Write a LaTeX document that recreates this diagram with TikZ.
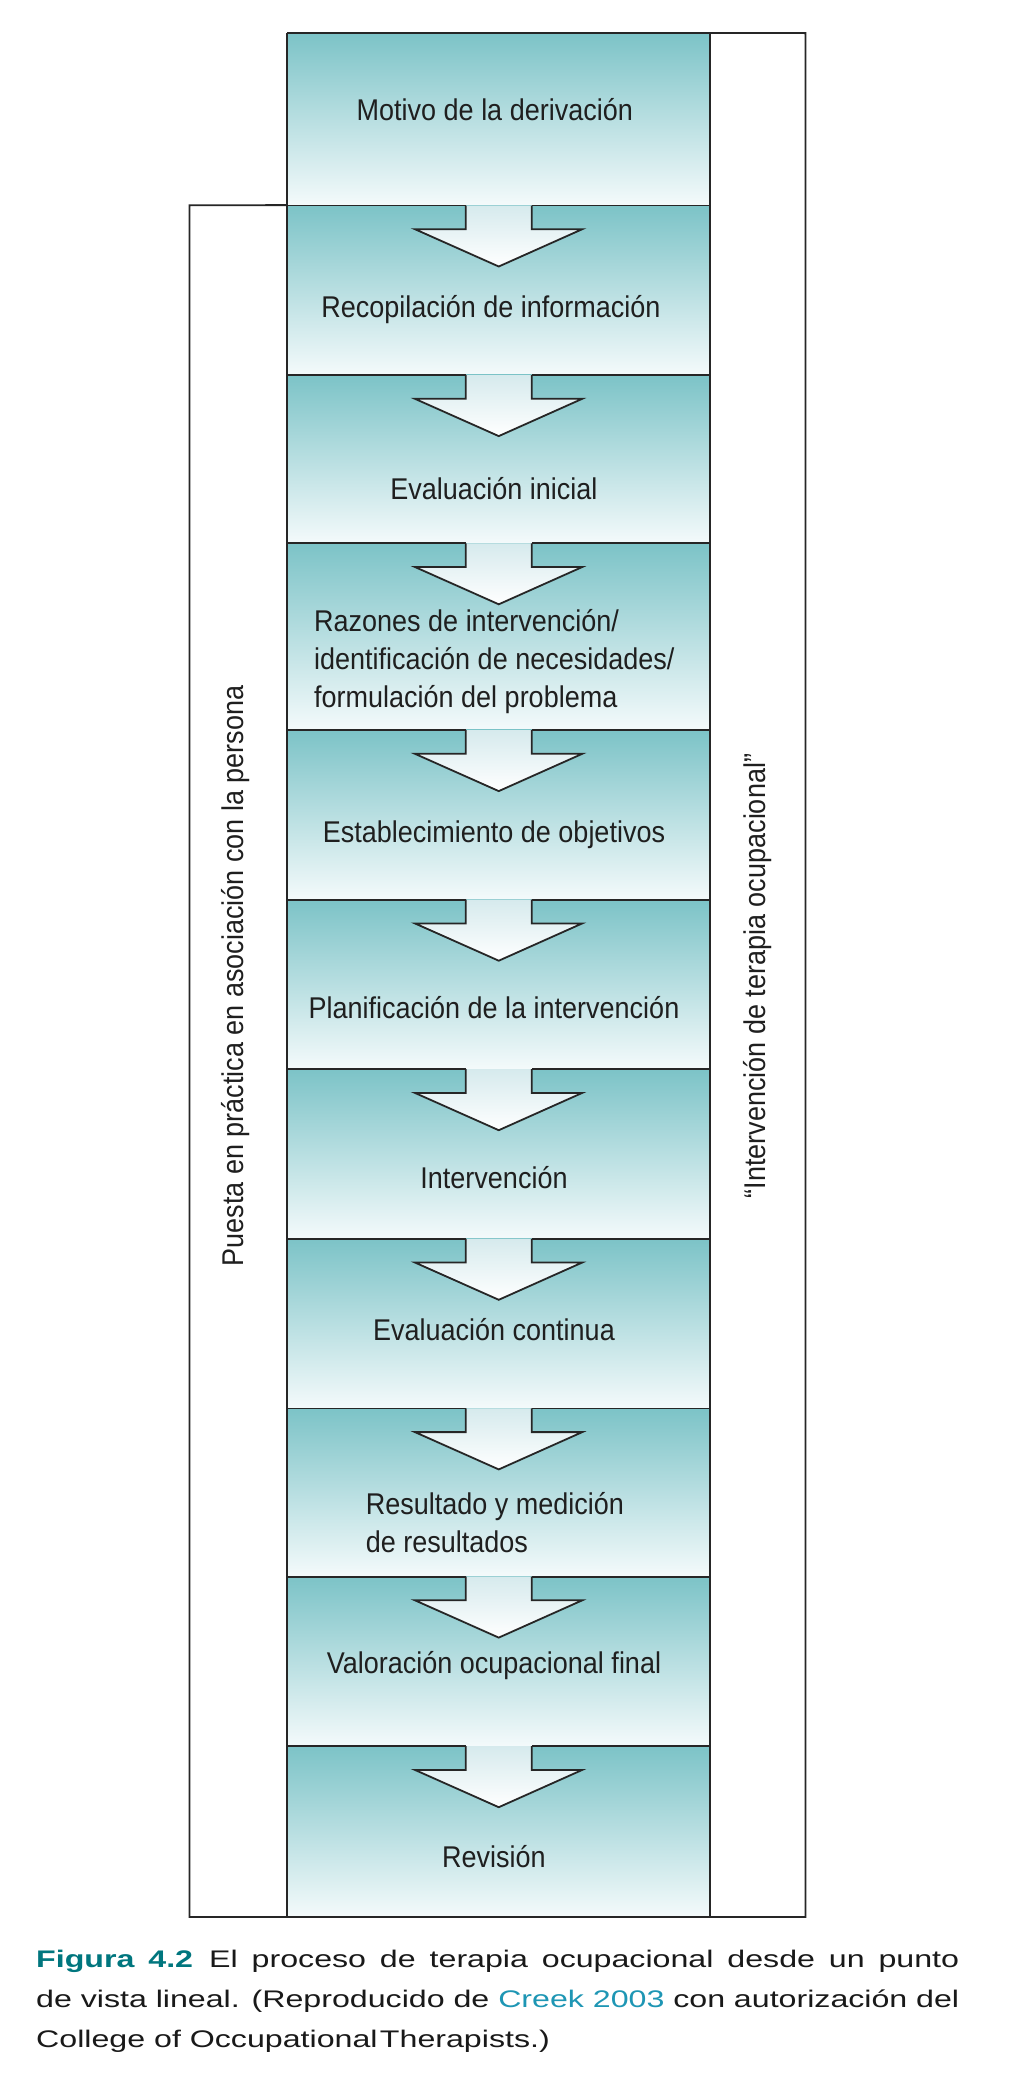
\documentclass[tikz,border=0pt]{standalone}
\usepackage{fontspec}
\setmainfont{Liberation Sans}[FakeStretch=0.9]
\newfontfamily\capfont{Liberation Sans}[FakeStretch=1.34]
\usetikzlibrary{calc}
\definecolor{tealA}{RGB}{124,195,199}
\definecolor{tealB}{RGB}{244,250,251}
\definecolor{arrowtop}{RGB}{214,234,237}
\definecolor{figteal}{RGB}{0,118,126}
\definecolor{creekblue}{RGB}{30,150,180}
\begin{document}
\begin{tikzpicture}[x=1pt,y=-1pt,
  band/.style={rectangle, inner sep=0pt, minimum width=422.5pt, top color=tealA, bottom color=tealB, draw=none},
  lbl/.style={font=\fontsize{30}{38}\selectfont, inner sep=0pt, text=black!88},
  sidetxt/.style={font=\fontsize{30}{38}\selectfont, inner sep=0pt, text=black!88, rotate=90},
  boxline/.style={line width=1.8pt, black!85},
  captxt/.style={font=\capfont\fontsize{24}{40}\selectfont, inner sep=0pt, anchor=base west, text=black!90}]
\useasboundingbox (0,0) rectangle (1020,2078);
\fill[white] (0,0) rectangle (1020,2078);
% bands
\foreach \i/\t/\b in {1/33.1/205.3, 2/205.3/374.9, 3/374.9/543.1, 4/543.1/729.9, 5/729.9/899.5, 6/899.5/1069, 7/1069/1238.6, 8/1238.6/1408.2, 9/1408.2/1576.4, 10/1576.4/1746, 11/1746/1916.8}{
  \node[band, minimum height={(\b-\t)*1pt}] (b\i) at (498.75,{(\t+\b)/2}) {};
}
% arrows
\foreach \i in {1,...,10}{
  \path[boxline, draw, top color=arrowtop, bottom color=white]
    ($(b\i.south)+(-33,0)$) -- ++(0,23.7) -- ++(-50.8,0) -- ($(b\i.south)+(0,61)$)
    -- ($(b\i.south)+(83.5,23.7)$) -- ++(-50.5,0) -- ++(0,-23.7);
  \draw[boxline] (b\i.south west) -- ++(178.3,0);
  \draw[boxline] (b\i.south east) -- ++(-178.3,0);
}
% column outline
\draw[boxline] (b1.north west) -- (b1.north east);
\draw[boxline] (b1.north west) -- (b11.south west);
\draw[boxline] (b1.north east) -- (b11.south east);
\draw[boxline] (b11.south west) -- (b11.south east);
% brackets
\coordinate (lt) at (189.4,205.3);
\coordinate (rt) at (805.4,33.1);
\draw[boxline] (b2.north west) -- (lt) |- (b11.south west);
\draw[boxline] (b1.north east) -- (rt) |- (b11.south east);
% labels
\node[lbl] (t1) at (494.8,110) {Motivo de la derivación};
\node[lbl] (t2) at (491,310) {Recopilación de información};
\node[lbl] (t3) at (494,489) {Evaluación inicial};
\node[lbl, anchor=west, align=left] (t4) at (314,662) {Razones de intervención/\\identificación de necesidades/\\formulación del problema};
\node[lbl] (t5) at (494,835) {Establecimiento de objetivos};
\node[lbl] (t6) at (494,1008) {Planificación de la intervención};
\node[lbl] (t7) at (494,1178) {Intervención};
\node[lbl] (t8) at (494,1330) {Evaluación continua};
\node[lbl, anchor=west, align=left] (t9) at (365.6,1523) {Resultado y medición\\de resultados};
\node[lbl] (t10) at (494,1666) {Valoración ocupacional final};
\node[lbl] (t11) at (494,1857) {Revisión};
\node[sidetxt] (sl) at (236,976) {Puesta en práctica en asociación con la persona};
\node[sidetxt] (sr) at (758,976) {“Intervención de terapia ocupacional”};
% caption
\node[captxt] (c1) at (36,1967) {\makebox[923pt][s]{{\bfseries\color{figteal}Figura 4.2}\hspace{0.45em plus 0.2em}El proceso de terapia ocupacional desde un punto}};
\node[captxt] (c2) at (36,2007) {\makebox[923pt][s]{de vista lineal. (Reproducido de {\color{creekblue}Creek 2003} con autorización del}};
\node[captxt] (c3) at (36,2047) {College of Occupational\hspace{0.1em}Therapists.)};
\end{tikzpicture}
\end{document}
